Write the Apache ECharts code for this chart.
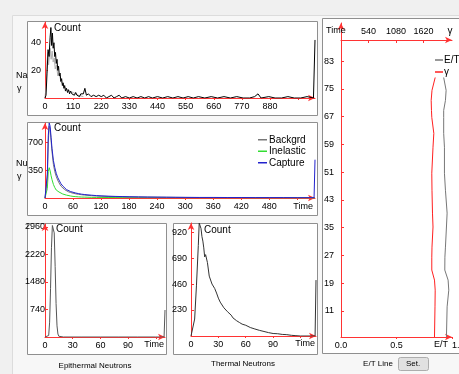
<!DOCTYPE html>
<html><head><meta charset="utf-8">
<script src="https://cdn.jsdelivr.net/npm/echarts@6/dist/echarts.min.js"></script>
<style>html,body{margin:0;padding:0;background:#f0f0f0;}#c{width:459px;height:374px;}</style>
</head><body><div id="c"></div>
<script>
// ---- Na γ panel ----
const naTime = [0,4,8,12,16,20,23,26,29,32,35,38,41,44,47,50,53,56,59,62,65,68,71,74,77,80,84,88,92,96,100,105,110,115,120,125,130,135,140,145,150,156,162,170,180,190,200,210,220,230,240,250,260,270,280,290,300,315,330,345,360,375,390,405,420,440,460,480,500,520,540,560,580,600,625,650,675,700,725,750,775,800,820,833,845,875,900,925,950,975,1000,1025,1050,1054,1056];
const naCount = [0,2,18,35,30,44,51,38,47,36,40,30,33,25,28,20,23,16,18,12,14,9,11,7,9,5,7,4,6,3,5,3,4,2,4,2,3,1,3,2,3,7,2,3,1,2,1,2,1,2,0,1,2,0,1,2,0,1,0,1,0,1,0,1,0,1,0,1,0,1,0,1,0,1,0,1,0,1,0,1,0,0,1,3,0,1,0,0,1,0,0,1,0,0,42];
const naGrayTime = [0,5,8,11,14,17,20,24,28,32,36,40,45,50,56,62,70,80,95,110,130,150];
const naGrayCount = [0,10,26,33,24,30,36,28,34,26,29,21,24,16,18,12,10,7,5,4,2,1];
const naTimeTicks = [0,110,220,330,440,550,660,770,880];
// ---- Nu γ panel ----
const nuTime = [0,3,5,7,9,11,13,15,18,21,24,27,30,34,38,42,46,50,55,60,66,72,78,84,90,100,110,120,135,150,165,180,200,220,240,260,280,300,330,360,390,420,450,480,510,540,576,578];
const captureCount = [0,0,300,780,940,900,760,620,470,380,310,260,225,180,150,125,105,92,80,72,62,55,48,44,40,35,30,27,23,20,18,16,14,12,11,10,9,8,7,7,6,6,5,5,5,4,4,480];
const backgrdCount = [0,0,250,700,900,860,720,580,420,330,270,225,190,150,125,105,90,78,68,60,52,46,41,37,34,29,25,22,19,17,15,13,12,11,10,9,8,7,6,6,5,5,4,4,4,3,3,3];
const inelasticCount = [0,0,120,330,380,340,280,230,170,130,100,85,75,60,50,42,36,30,25,20,17,14,12,11,10,8,7,7,6,6,5,5,5,4,4,4,4,3,3,3,3,3,2,2,2,2,2,2];
const nuTimeTicks = [0,60,120,180,240,300,360,420,480];
const nuCountTicks = [350,700];
// ---- Epithermal ----
const epiTime = [0,2,4,5,6,7,8,9,10,11,12,13,14,15,17,20,40,60,80,100,120,129,130];
const epiCount = [0,0,40,400,1300,2400,3000,3040,2800,1900,900,300,80,20,0,0,0,0,0,0,0,0,726];
const epiCountTicks = [740,1480,2220,2960];
// ---- Thermal ----
const thTime = [0,2,4,6,8,9,10,11,12,13,14,15,16,18,20,23,26,28,30,32,34,36,38,40,42,44,46,48,50,53,56,60,65,70,75,80,85,90,95,100,105,110,115,120,136,137];
const thCount = [0,0,150,450,800,1000,1000,950,880,840,780,700,720,650,530,460,420,380,335,300,290,250,240,215,200,185,160,150,135,120,105,95,75,62,50,40,30,22,20,14,12,6,3,0,0,495];
const thCountTicks = [230,460,690,920];
const shortTimeTicks = [0,30,60,90];
// ---- E/T log ----
const depth = [78.3,74.6,71.7,68.8,66.8,62.2,58.2,50.7,45.8,39.2,35.2,29.4,26.5,22.8,19.9,17.0,12.2,3.5];
const gammaVal = [1850,1787,1771,1777,1783,1823,1807,1783,1787,1797,1807,1787,1783,1783,1836,1850,1846,1836];
const etVal = [0.925,0.947,0.941,0.925,0.925,0.925,0.932,0.932,0.941,0.956,0.95,0.941,0.936,0.935,0.965,0.971,0.956,0.95];
const depthTicks = [11,19,27,35,43,51,59,67,75,83];
const gammaTicks = [540,1080,1620];
const etTicks = [0,0.5,1];

const zip = (a,b) => a.map((v,i)=>[v,b[i]]);
const FONT = 'Liberation Sans';
const RED = '#ff3333';
const plain = v => String(v);

function lbl(values, margin, extra) {
  return Object.assign({color:'#000', fontSize:9, fontFamily:FONT, margin:margin, customValues:values, formatter:plain}, extra||{});
}
function xAx(gi, max, labels, ticks, extra) {
  return Object.assign({
    type:'value', gridIndex:gi, min:0, max:max,
    axisLine:{show:true, onZero:false, lineStyle:{color:RED,width:1}, symbol:['none','arrow'], symbolSize:[5,7]},
    axisTick:{show:true, length:2, lineStyle:{color:RED}, customValues:ticks},
    axisLabel:lbl(labels, 4),
    splitLine:{show:false}
  }, extra||{});
}
function yAx(gi, min, max, labels, margin) {
  return {
    type:'value', gridIndex:gi, min:min, max:max,
    axisLine:{show:true, onZero:false, lineStyle:{color:RED,width:1}, symbol:['none','arrow'], symbolSize:[5,7]},
    axisTick:{show:true, inside:true, length:3, lineStyle:{color:RED}, customValues:labels},
    axisLabel:lbl(labels, margin),
    splitLine:{show:false}
  };
}
function line(name, xi, yi, data, color, z) {
  return {name:name, type:'line', xAxisIndex:xi, yAxisIndex:yi, data:data, symbol:'none',
    lineStyle:{color:color, width:1}, itemStyle:{color:color}, z:z||2, animation:false};
}
function txt(x,y,s,size,align){
  return {type:'text', x:x, y:y, z:50, style:{text:s, fill:'#000', fontSize:size||10, fontFamily:FONT, align:align||'left', verticalAlign:'middle'}};
}
function box(x,y,w,h){
  return {type:'rect', z:-10, shape:{x:x+0.5,y:y+0.5,width:w,height:h}, style:{fill:'#ffffff', stroke:'#8f8f8f', lineWidth:1}};
}
function grid(l,t,w,h){
  return {left:l, top:t, width:w, height:h, containLabel:false, outerBoundsMode:'none'};
}

const graphic = [
  {type:'rect', z:-20, shape:{x:12.5,y:15.5,width:470,height:380}, style:{fill:'#f7f7f7', stroke:'#dcdcdc'}},
  box(27,21,290,94), box(27,122,290,93), box(27,223,139,131), box(173,223,144,131), box(322,18,150,335),
  txt(54,28,'Count'), txt(16,76,'Na',9), txt(17,89,'γ',9),
  txt(54,128,'Count'), txt(16,164,'Nu',9), txt(17,177,'γ',9),
  txt(56,229,'Count'), txt(204,230,'Count'),
  txt(313,207,'Time',9,'right'), txt(164,345,'Time',9,'right'), txt(315,344,'Time',9,'right'),
  txt(95,366,'Epithermal Neutrons',8,'center'), txt(243,364,'Thermal Neutrons',8,'center'),
  txt(326,31,'Time',9), txt(450,31,'γ',10,'center'), txt(448,345,'E/T',9,'right'),
  txt(378,364,'E/T Line',8,'center'),
  {type:'rect', z:-5, shape:{x:398.5,y:357.5,width:30,height:13,r:2}, style:{fill:'#e1e1e1', stroke:'#adadad'}},
  txt(413,364,'Set.',8,'center')
];

const option = {
  animation:false,
  backgroundColor:'#f0f0f0',
  textStyle:{fontFamily:FONT},
  graphic:graphic,
  grid:[
    grid(45,22,270,76),
    grid(45,123,270,75),
    grid(45,224,120,113),
    grid(191,223,125,113),
    grid(341,23,111,314)
  ],
  xAxis:[
    xAx(0, 1056, naTimeTicks, [110,220,330,440,550,660,770,880,990]),
    xAx(1, 578, nuTimeTicks, [60,120,180,240,300,360,420,480,540]),
    xAx(2, 130, shortTimeTicks, [30,60,90,120]),
    xAx(3, 137, shortTimeTicks, [30,60,90,120]),
    xAx(4, 1, etTicks, [0.5,1], {axisLabel:lbl(etTicks, 4, {alignMaxLabel:'left', formatter:v=>v.toFixed(1)})}),
    xAx(4, 2180, gammaTicks, gammaTicks, {position:'top', offset:-17, axisTick:{show:true, inside:true, length:3, lineStyle:{color:RED}, customValues:gammaTicks}})
  ],
  yAxis:[
    yAx(0, 0, 55, [20,40], 4),
    yAx(1, 0, 940, nuCountTicks, 2),
    yAx(2, 0, 3040, epiCountTicks, 0),
    yAx(3, 0, 1000, thCountTicks, 4),
    yAx(4, 3.5, 94, depthTicks, 7)
  ],
  legend:[
    {data:['Backgrd','Inelastic','Capture'], orient:'vertical', left:253, top:129, itemWidth:9, itemHeight:1.5, icon:'rect', itemGap:0,
     textStyle:{fontSize:10, fontFamily:FONT, color:'#000', lineHeight:11.5, padding:[0,0,0,-3]}},
    {data:['E/T','γ'], orient:'vertical', left:430, top:49, itemWidth:8, itemHeight:1.5, icon:'rect', itemGap:0,
     textStyle:{fontSize:10, fontFamily:FONT, color:'#000', lineHeight:12, padding:[0,0,0,-4]}}
  ],
  series:[
    line('NaGray',0,0,zip(naGrayTime,naGrayCount),'#b0b0b0',1),
    line('Na',0,0,zip(naTime,naCount),'#000000',2),
    line('Inelastic',1,1,zip(nuTime,inelasticCount),'#33dd33',2),
    line('Backgrd',1,1,zip(nuTime,backgrdCount),'#777777',3),
    line('Capture',1,1,zip(nuTime,captureCount),'#2222cc',4),
    line('Epithermal',2,2,zip(epiTime,epiCount),'#555555',2),
    line('Thermal',3,3,zip(thTime,thCount),'#333333',2),
    line('E/T',4,4,zip(etVal,depth),'#777777',2),
    line('γ',5,4,zip(gammaVal,depth),'#ff2020',2)
  ]
};
const chart = echarts.init(document.getElementById('c'), null, {renderer:'canvas'});
chart.setOption(option);
</script></body></html>
